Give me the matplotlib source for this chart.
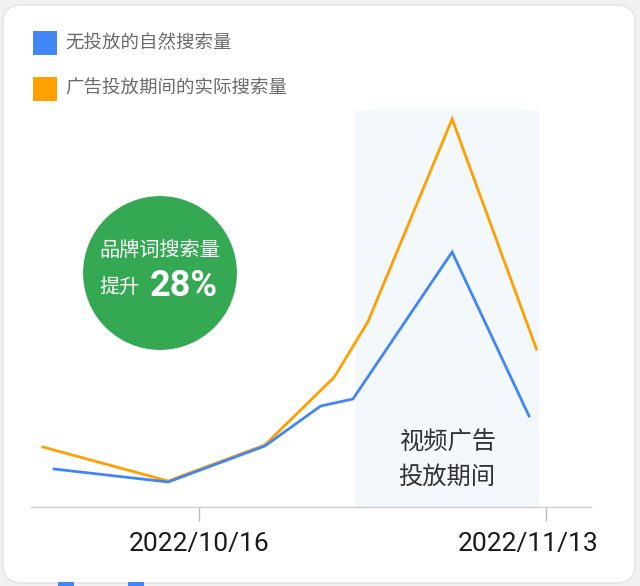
import matplotlib
matplotlib.use('Agg')
import matplotlib.pyplot as plt
import matplotlib.transforms as mtransforms
from matplotlib.patches import Circle, FancyBboxPatch, Rectangle

plt.rcParams['font.family'] = ['Noto Sans CJK SC', 'DejaVu Sans']

# days relative to 2022/10/16, search volume index
natural_days = [-11.7, -2.5, 5.3, 9.8, 12.4, 20.4, 26.6]
natural_vals = [38, 25, 61, 101, 108, 255, 91]
actual_days = [-12.6, -2.5, 5.3, 10.9, 13.6, 20.4, 27.2]
actual_vals = [60, 26, 62, 130, 185, 388, 158]

tick_days = [0, 28]
tick_labels = ['2022/10/16', '2022/11/13']
campaign = (12.6, 27.4)

legend_labels = ['无投放的自然搜索量', '广告投放期间的实际搜索量']
BLUE = '#4285F4'
ORANGE = '#FFA000'

W, H = 640, 586
fig = plt.figure(figsize=(W / 100, H / 100), dpi=100)
fig.patch.set_facecolor('#f1f1f1')

# white card
card = FancyBboxPatch((3 / W, 3 / H), 632 / W, 578 / H,
                      boxstyle='round,pad=0,rounding_size=0.03',
                      transform=fig.transFigure, facecolor='white',
                      edgecolor='#e2e2e2', linewidth=1, zorder=0)
fig.add_artist(card)

# bits of the next card peeking below
for x0 in (58, 128):
    fig.add_artist(Rectangle((x0 / W, 0), 16 / W, 4 / H, transform=fig.transFigure,
                             facecolor=BLUE, edgecolor='none', zorder=1))

ax = fig.add_axes([31 / W, (H - 507) / H, 560 / W, 397 / H])
ax.set_facecolor('none')
ax.axvspan(*campaign, color='#f3f8fd', zorder=0, lw=0)
ax.plot(actual_days, actual_vals, color=ORANGE, lw=2, zorder=2, solid_joinstyle='miter')
ax.plot(natural_days, natural_vals, color=BLUE, lw=2, zorder=3, solid_joinstyle='miter')

ax.set_xlim(-13.56, 31.6)
ax.set_ylim(0, 397)
for s in ['top', 'right', 'left']:
    ax.spines[s].set_visible(False)
ax.spines['bottom'].set_color('#cccccc')
ax.spines['bottom'].set_linewidth(1)
ax.set_yticks([])
ax.set_xticks(tick_days)
ax.set_xticklabels(tick_labels, family=['Roboto', 'DejaVu Sans'], fontsize=19, color='#1a1a1a')
ax.tick_params(axis='x', length=10, width=1, color='#bbbbbb', pad=8)
# last label is pushed left so it stays inside the card
last = ax.get_xticklabels()[1]
last.set_horizontalalignment('right')
last.set_transform(last.get_transform() +
                   mtransforms.ScaledTranslation(0.52, 0, fig.dpi_scale_trans))

ax.text(sum(campaign) / 2, 47, '视频广告\n投放期间', ha='center', va='center',
        fontsize=17.5, color='#333333', linespacing=1.4, zorder=4)

# legend
for i, (lab, col) in enumerate(zip(legend_labels, [BLUE, ORANGE])):
    yc = 43 + i * 46
    fig.add_artist(Rectangle((33 / W, (H - yc - 12) / H), 24 / W, 24 / H,
                             transform=fig.transFigure, facecolor=col, edgecolor='none'))
    fig.text(65 / W, (H - yc) / H, lab, fontsize=13.3, color='#6a6a6a', va='center', ha='left')

# green badge
cax = fig.add_axes([83 / W, (H - 350) / H, 154 / W, 154 / H])
cax.set_xlim(-1.01, 1.01)
cax.set_ylim(-1.01, 1.01)
cax.axis('off')
cax.add_patch(Circle((0, 0), 1, color='#34A853', clip_on=False))
cax.text(0, 0.30, '品牌词搜索量', ha='center', va='center', color='white', fontsize=14.5)
cax.text(-0.53, -0.19, '提升', ha='center', va='center', color='white', fontsize=14.5)
cax.text(0.31, -0.17, '28%', ha='center', va='center', color='white', fontsize=26,
         fontweight='bold', family=['Roboto', 'DejaVu Sans'])

fig.savefig('out.png', dpi=100)
